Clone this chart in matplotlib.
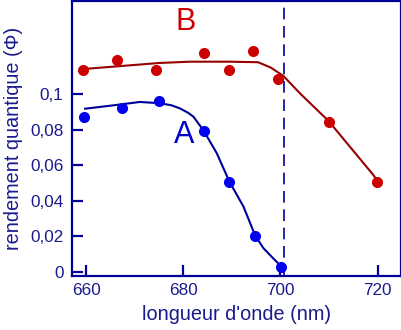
import matplotlib
matplotlib.use("Agg")
import matplotlib.pyplot as plt
from matplotlib.ticker import FuncFormatter

plt.rcParams["font.family"] = ["Liberation Sans", "DejaVu Sans"]

# Measured points (wavelength nm, quantum yield)
a_x = [659.5, 667.5, 675.1, 684.2, 689.5, 694.8, 700.2]
a_y = [0.0873, 0.0924, 0.0960, 0.0794, 0.0507, 0.0203, 0.0028]
b_x = [659.4, 666.3, 674.3, 684.3, 689.5, 694.4, 699.4, 710.0, 719.8]
b_y = [0.1135, 0.1193, 0.1135, 0.1230, 0.1135, 0.1245, 0.1084, 0.0843, 0.0507]

# Hand-drawn fitted curves
a_curve_x = [659.8, 665.0, 671.1, 675.1, 677.5, 679.3, 681.0, 682.1, 684.2, 686.9,
             689.5, 692.4, 694.8, 696.5, 698.5, 700.2]
a_curve_y = [0.0918, 0.0935, 0.0956, 0.0949, 0.0938, 0.0920, 0.0895, 0.0873, 0.0794, 0.0667,
             0.0507, 0.0366, 0.0203, 0.0132, 0.0075, 0.0028]
b_curve_x = [659.6, 675.2, 681.4, 689.6, 695.4, 698.0, 700.6, 704.0, 709.9, 719.1, 719.8]
b_curve_y = [0.1142, 0.1176, 0.1183, 0.1183, 0.1180, 0.1150, 0.1103, 0.1005, 0.0849, 0.0545, 0.0517]

x_ticks = [660, 680, 700, 720]
y_ticks = [0, 0.02, 0.04, 0.06, 0.08, 0.1]
cutoff = 700.7

navy = "#000099"
text_col = "#1a1a8c"

fig = plt.figure(figsize=(4.02, 3.30), dpi=100)
ax = fig.add_axes([0.179, 0.1636, 0.8184, 0.8333])

ax.plot(b_curve_x, b_curve_y, color="#990000", lw=1.5, zorder=2)
ax.plot(a_curve_x, a_curve_y, color="#000099", lw=1.5, zorder=2)
ax.plot(b_x, b_y, "o", color="#cc0000", ms=8, mec="none", zorder=3)
ax.plot(a_x, a_y, "o", color="#0000ee", ms=8, mec="none", zorder=3)

ax.axvline(cutoff, color=navy, lw=1.2, dashes=(7, 4), zorder=1)

ax.text(680.5, 0.1405, "B", color="#cc0000", fontsize=22, ha="center", va="center")
ax.text(680.2, 0.0771, "A", color="#0000cc", fontsize=22, ha="center", va="center")

ax.set_xlim(657.1, 724.8)
ax.set_ylim(-0.0025, 0.1525)
ax.set_xticks(x_ticks)
ax.set_yticks(y_ticks)
ax.yaxis.set_major_formatter(FuncFormatter(lambda v, p: "0" if v == 0 else ("%g" % v).replace(".", ",")))

for s in ax.spines.values():
    s.set_color(navy)
    s.set_linewidth(1.6)
ax.tick_params(direction="in", length=8, width=1.6, color=navy,
               labelcolor=text_col, labelsize=12.3, pad=5)
ax.tick_params(axis="y", pad=6)

ax.set_xlabel("longueur d'onde (nm)", color=text_col, fontsize=14.3, labelpad=5)
ax.set_ylabel("rendement quantique (\u03a6)", color=text_col, fontsize=14.3, labelpad=5)

fig.savefig("out.png", dpi=100)
